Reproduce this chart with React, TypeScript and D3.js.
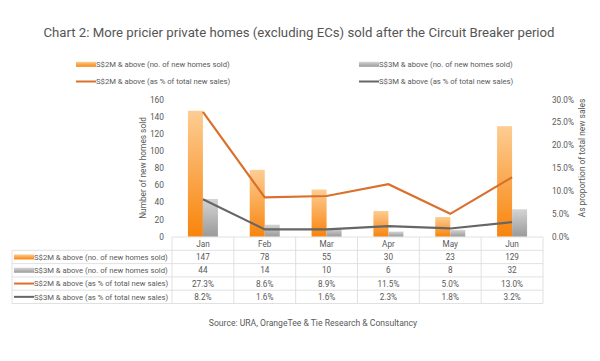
import * as d3 from "d3";

const months = ["Jan", "Feb", "Mar", "Apr", "May", "Jun"];
const homes2M = [147, 78, 55, 30, 23, 129];
const homes3M = [44, 14, 10, 6, 8, 32];
const pct2M = [27.3, 8.6, 8.9, 11.5, 5.0, 13.0];
const pct3M = [8.2, 1.6, 1.6, 2.3, 1.8, 3.2];
const leftTicks = [0, 20, 40, 60, 80, 100, 120, 140, 160];
const rightTicks = [0, 5, 10, 15, 20, 25, 30];

const label2MBar = "S$2M & above (no. of new homes sold)";
const label3MBar = "S$3M & above (no. of new homes sold)";
const label2MLine = "S$2M & above (as % of total new sales)";
const label3MLine = "S$3M & above (as % of total new sales)";

const FONT = "Roboto, 'Open Sans', sans-serif";
const TXT = "#595959";
const ORANGE_LINE = "#d9712d";
const GRAY_LINE = "#666666";
const GRID = "#d9d9d9";

const App = () => {
  const width = 600;
  const height = 361;

  const x = d3.scaleBand().domain(months).range([172, 543]).paddingInner(0).paddingOuter(0);
  const yLeft = d3.scaleLinear().domain([0, 160]).range([236.7, 99.6]);
  const yRight = d3.scaleLinear().domain([0, 30]).range([236.7, 99.6]);
  const barW = 15;
  const cx = (m: string) => (x(m) as number) + x.bandwidth() / 2;

  const line = d3
    .line<number>()
    .x((_, i) => cx(months[i]))
    .y((d) => yRight(d));

  // table geometry
  const tableTop = 237;
  const headerH = 13.3;
  const rowH = 13.3;
  const tableLeft = 12;
  const rows = [
    { label: label2MBar, vals: homes2M.map(String), kind: "bar", color: "url(#gOrange)" },
    { label: label3MBar, vals: homes3M.map(String), kind: "bar", color: "url(#gGray)" },
    { label: label2MLine, vals: pct2M.map((d) => d.toFixed(1) + "%"), kind: "line", color: ORANGE_LINE },
    { label: label3MLine, vals: pct3M.map((d) => d.toFixed(1) + "%"), kind: "line", color: GRAY_LINE },
  ];
  const tableBottom = tableTop + headerH + rowH * rows.length;

  const swatch = (kind: string, color: string, x0: number, yc: number, w: number) =>
    kind === "bar" ? (
      <rect x={x0} y={yc - 2.5} width={w} height={5} fill={color} />
    ) : (
      <line x1={x0} x2={x0 + w} y1={yc} y2={yc} stroke={color} strokeWidth={2} />
    );

  return (
    <svg width={width} height={height} style={{ display: "block", position: "absolute", left: 0, top: 0 }} fontFamily={FONT}>
      <defs>
        <linearGradient id="gOrange" x1="0" y1="0" x2="0" y2="1">
          <stop offset="0%" stopColor="#fdcd93" />
          <stop offset="100%" stopColor="#f8840c" />
        </linearGradient>
        <linearGradient id="gGray" x1="0" y1="0" x2="0" y2="1">
          <stop offset="0%" stopColor="#d4d4d4" />
          <stop offset="100%" stopColor="#9a9a9a" />
        </linearGradient>
      </defs>
      <rect width={width} height={height} fill="#ffffff" />

      <text x={299} y={37} textAnchor="middle" fontSize={13.2} fill="#555">
        Chart 2: More pricier private homes (excluding ECs) sold after the Circuit Breaker period
      </text>

      {/* legend */}
      {[
        { label: label2MBar, kind: "bar", color: "url(#gOrange)", x0: 76, y: 64.3 },
        { label: label3MBar, kind: "bar", color: "url(#gGray)", x0: 359, y: 64.3 },
        { label: label2MLine, kind: "line", color: ORANGE_LINE, x0: 76, y: 81.5 },
        { label: label3MLine, kind: "line", color: GRAY_LINE, x0: 359, y: 81.5 },
      ].map((l) => (
        <g key={l.label}>
          {swatch(l.kind, l.color, l.x0, l.y, 20)}
          <text x={l.x0 + 20} y={l.y + 2.8} fontSize={7.7} fill={TXT}>
            {l.label}
          </text>
        </g>
      ))}

      {/* left axis */}
      {leftTicks.map((t) => (
        <text key={t} x={164} y={yLeft(t) + 3} textAnchor="end" fontSize={8.4} fill={TXT}>
          {t}
        </text>
      ))}
      <text
        transform={`translate(146,168) rotate(-90)`}
        textAnchor="middle"
        fontSize={8.3}
        fill={TXT}
      >
        Number of new homes sold
      </text>

      {/* right axis */}
      {rightTicks.map((t) => (
        <text key={t} x={552} y={yRight(t) + 3} fontSize={8.2} fill={TXT}>
          {t.toFixed(1) + "%"}
        </text>
      ))}
      <text
        transform={`translate(585,158) rotate(-90)`}
        textAnchor="middle"
        fontSize={8.4}
        fill={TXT}
      >
        As proportion of total new sales
      </text>

      {/* bars */}
      {months.map((m, i) => (
        <g key={m}>
          <rect x={cx(m) - barW} y={yLeft(homes2M[i])} width={barW} height={yLeft(0) - yLeft(homes2M[i])} fill="url(#gOrange)" />
          <rect x={cx(m)} y={yLeft(homes3M[i])} width={barW} height={yLeft(0) - yLeft(homes3M[i])} fill="url(#gGray)" />
        </g>
      ))}

      {/* lines */}
      <path d={line(pct2M) || ""} fill="none" stroke={ORANGE_LINE} strokeWidth={2.2} />
      <path d={line(pct3M) || ""} fill="none" stroke={GRAY_LINE} strokeWidth={2.2} />

      {/* data table */}
      <g stroke={GRID} strokeWidth={0.8}>
        <line x1={172} x2={543} y1={tableTop} y2={tableTop} />
        {rows.map((_, r) => (
          <line key={r} x1={tableLeft} x2={543} y1={tableTop + headerH + rowH * r} y2={tableTop + headerH + rowH * r} />
        ))}
        <line x1={tableLeft} x2={543} y1={tableBottom} y2={tableBottom} />
        <line x1={tableLeft} x2={tableLeft} y1={tableTop + headerH} y2={tableBottom} />
        {months.map((m) => (
          <line key={m} x1={x(m) as number} x2={x(m) as number} y1={tableTop} y2={tableBottom} />
        ))}
        <line x1={543} x2={543} y1={tableTop} y2={tableBottom} />
      </g>
      {months.map((m) => (
        <text key={m} x={cx(m)} y={tableTop + headerH / 2 + 3} textAnchor="middle" fontSize={8.2} fill={TXT}>
          {m}
        </text>
      ))}
      {rows.map((row, r) => {
        const yc = tableTop + headerH + rowH * r + rowH / 2;
        return (
          <g key={row.label}>
            {swatch(row.kind, row.color, 14, yc, 20)}
            <text x={34} y={yc + 2.8} fontSize={7.7} fill={TXT}>
              {row.label}
            </text>
            {row.vals.map((v, i) => (
              <text key={i} x={cx(months[i])} y={yc + 3} textAnchor="middle" fontSize={8.2} fill={TXT}>
                {v}
              </text>
            ))}
          </g>
        );
      })}

      <text x={313} y={326} textAnchor="middle" fontSize={8.6} fill={TXT}>
        Source: URA, OrangeTee &amp; Tie Research &amp; Consultancy
      </text>
    </svg>
  );
};

export default App;
